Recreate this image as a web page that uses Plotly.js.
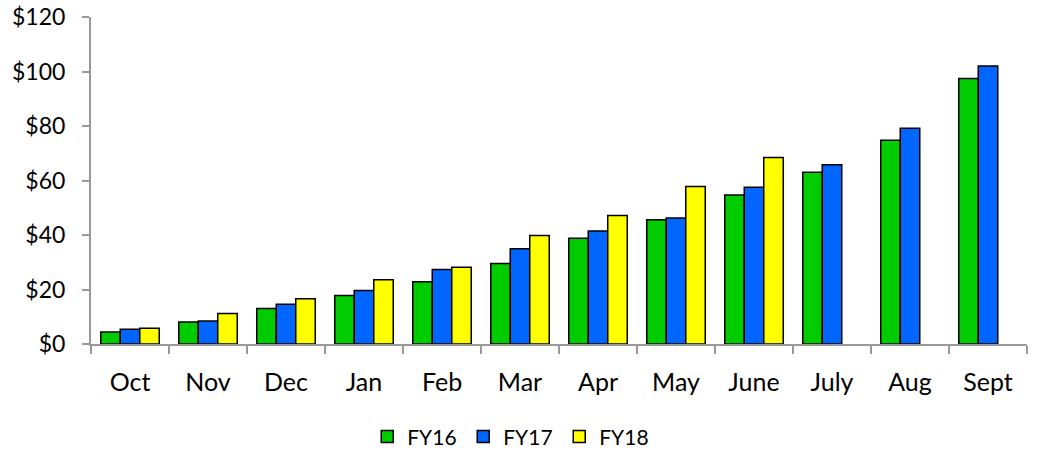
<!DOCTYPE html>
<html>
<head>
<meta charset="utf-8">
<script src="https://cdn.plot.ly/plotly-3.0.1.min.js"></script>
<style>html,body{margin:0;padding:0;background:#fff}#chart{width:1037px;height:455px}</style>
</head>
<body>
<div id="chart"></div>
<script>
const months = ["Oct","Nov","Dec","Jan","Feb","Mar","Apr","May","June","July","Aug","Sept"];
const fy16 = [4.4, 8.1, 13.0, 17.8, 22.8, 29.5, 38.8, 45.6, 54.7, 63.0, 74.8, 97.4];
const fy17 = [5.4, 8.4, 14.6, 19.6, 27.3, 35.0, 41.5, 46.2, 57.5, 65.8, 79.2, 102.0];
const fy18 = [5.8, 11.2, 16.6, 23.6, 28.2, 39.8, 47.2, 57.8, 68.4, null, null, null];
const yTicks = [0, 20, 40, 60, 80, 100, 120];
const yTickText = ["$0","$20","$40","$60","$80","$100","$120"];

const line = {color: "#000000", width: 1.5};
const traces = [
  {type: "bar", name: "FY16", x: months, y: fy16, marker: {color: "#00CC00", line: line}},
  {type: "bar", name: "FY17", x: months, y: fy17, marker: {color: "#0066FF", line: line}},
  {type: "bar", name: "FY18", x: months, y: fy18, marker: {color: "#FFFF00", line: line}}
];
const font = "Lato, 'Open Sans', sans-serif";
const layout = {
  width: 1037, height: 455,
  margin: {l: 91, r: 10, t: 17, b: 111, autoexpand: false},
  paper_bgcolor: "#fff", plot_bgcolor: "#fff",
  font: {family: font, color: "#000"},
  barmode: "group", bargap: 0.25, bargroupgap: 0,
  showlegend: true,
  legend: {orientation: "h", xref: "container", yref: "container", x: 0.493, xanchor: "center",
           y: 0.04, yanchor: "middle", font: {size: 21, family: font}, traceorder: "normal",
           entrywidth: 51, entrywidthmode: "pixels", itemwidth: 30},
  xaxis: {type: "category", showline: true, linecolor: "#999", linewidth: 2, automargin: false,
          ticks: "outside", tickson: "boundaries", ticklen: 8, tickcolor: "#999", tickwidth: 2,
          ticklabelstandoff: 15,
          tickfont: {size: 25, family: font}, showgrid: false, zeroline: false, fixedrange: true},
  yaxis: {range: [0, 120], tickvals: yTicks, ticktext: yTickText, showline: true, automargin: false,
          linecolor: "#999", linewidth: 2, ticks: "outside", ticklen: 7, tickcolor: "#999", tickwidth: 2,
          ticklabelstandoff: 12,
          tickfont: {size: 23, family: font}, showgrid: false, zeroline: false, fixedrange: true}
};
Plotly.newPlot("chart", traces, layout, {displayModeBar: false, staticPlot: true});
</script>
</body>
</html>
